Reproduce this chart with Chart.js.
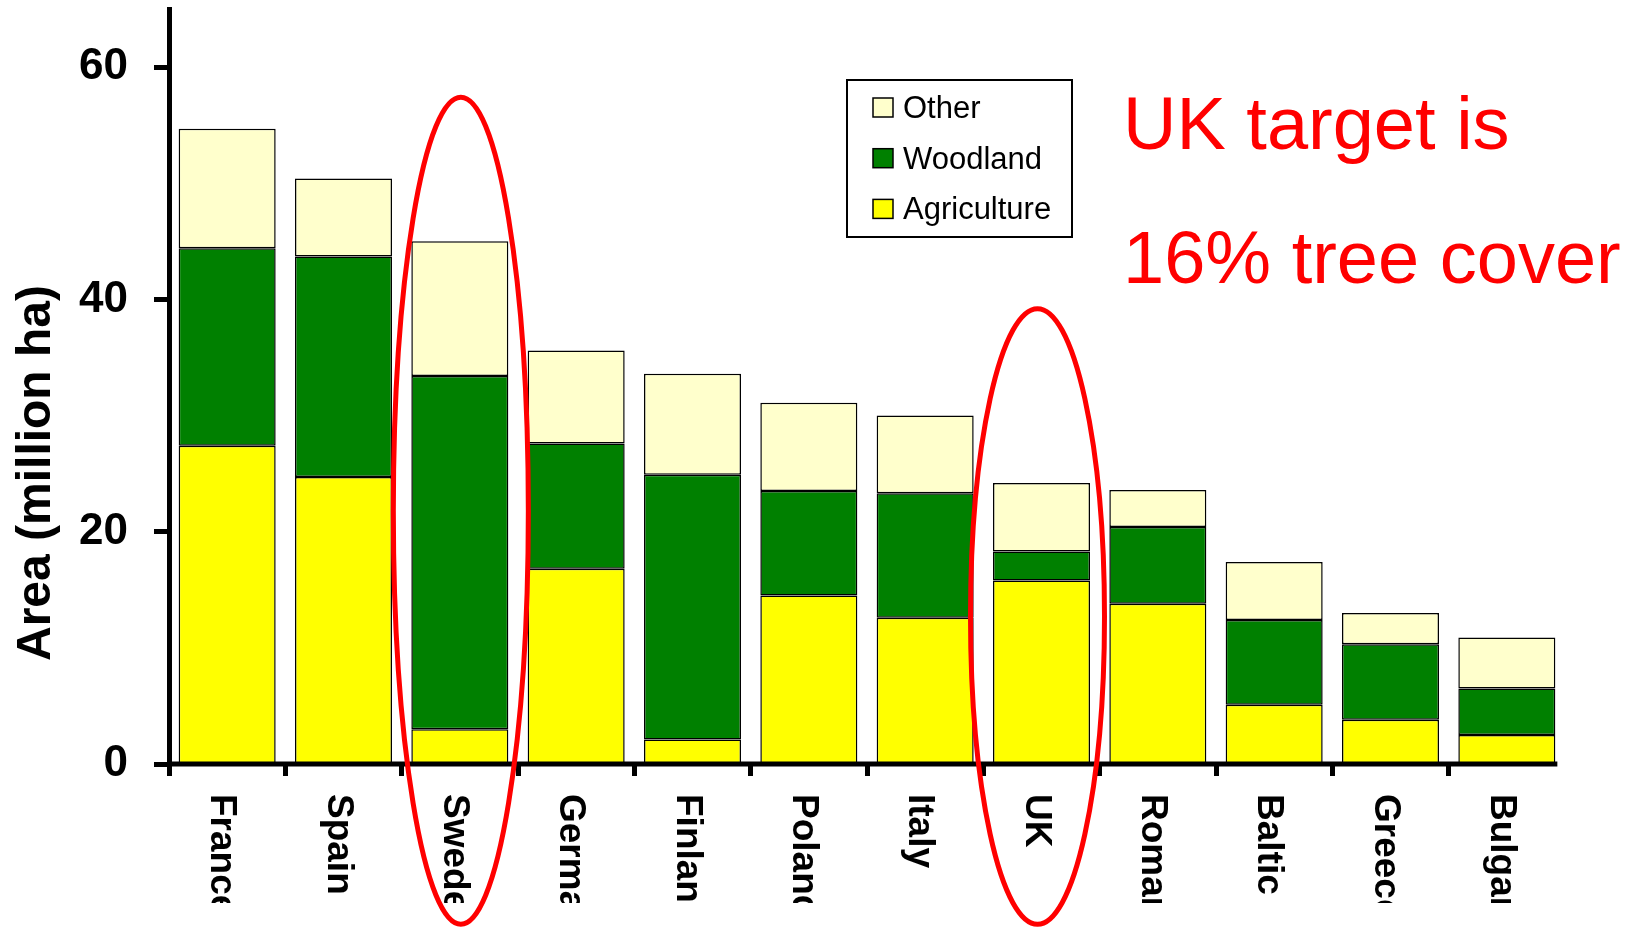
<!DOCTYPE html>
<html>
<head>
<meta charset="utf-8">
<title>Land use by country</title>
<script src="https://cdn.jsdelivr.net/npm/chart.js@4.4.1/dist/chart.umd.min.js"></script>
<style>
  html, body { margin: 0; padding: 0; background: #fff; }
  canvas { display: block; }
</style>
</head>
<body>
<canvas id="landChart" width="1646" height="929"></canvas>
<script>
// Countries along the x axis
const countries = ['France', 'Spain', 'Sweden', 'Germany', 'Finland', 'Poland',
                   'Italy', 'UK', 'Romania', 'Baltic', 'Greece', 'Bulgaria'];

// Area by land use, million ha (stacked bottom to top)
const agriculture = [27.4, 24.7, 3.0, 16.8, 2.1, 14.5, 12.6, 15.8, 13.8, 5.1, 3.8, 2.5];
const woodland    = [17.0, 19.0, 30.4, 10.8, 22.8, 9.0, 10.7, 2.5, 6.6, 7.3, 6.5, 4.0];
const other       = [10.3, 6.7, 11.6, 8.0, 8.7, 7.6, 6.7, 5.9, 3.2, 5.0, 2.7, 4.4];

// Y axis
const yTicks = [0, 20, 40, 60];
const yMax = 65;
const yTitle = 'Area (million ha)';

// Red note and the countries ringed in red
const noteLines = ['UK target is', '16% tree cover'];
const ringed = ['Sweden', 'UK'];

const FONT = '"Liberation Sans", Arial, Helvetica, sans-serif';
Chart.defaults.font.family = FONT;

// X axis line, stopping just after the last bar
function drawXAxisLine(ctx, chart) {
    const bars = chart.getDatasetMeta(0).data;
    const last = bars[bars.length - 1];
    const y = chart.scales.x.top;
    ctx.save();
    ctx.strokeStyle = '#000';
    ctx.lineWidth = 5;
    ctx.beginPath();
    ctx.moveTo(chart.chartArea.left - 2, y);
    ctx.lineTo(last.x + last.width / 2 + 2, y);
    ctx.stroke();
    ctx.restore();
}

// Country names, rotated to read downwards and cut off at the bottom
function drawCountryLabels(ctx, xScale) {
    ctx.save();
    ctx.beginPath();
    ctx.rect(0, 780, ctx.canvas.width, 123);
    ctx.clip();
    ctx.fillStyle = '#000';
    ctx.font = 'bold 37px ' + FONT;
    ctx.textAlign = 'left';
    ctx.textBaseline = 'alphabetic';
    countries.forEach((name, i) => {
        const cx = xScale.getPixelForValue(i);
        ctx.save();
        ctx.translate(cx - 16, 794);
        ctx.rotate(Math.PI / 2);
        ctx.fillText(name, 0, 0);
        ctx.restore();
    });
    ctx.restore();
}

// Y axis title, reading upwards
function drawAxisTitle(ctx) {
    ctx.save();
    ctx.translate(50, 473);
    ctx.rotate(-Math.PI / 2);
    ctx.fillStyle = '#000';
    ctx.font = 'bold 48px ' + FONT;
    ctx.textAlign = 'center';
    ctx.textBaseline = 'alphabetic';
    ctx.fillText(yTitle, 0, 0);
    ctx.restore();
}

// Boxed legend, top series first
function drawLegend(ctx, chart) {
    const items = chart.data.datasets.slice().reverse();
    ctx.save();
    ctx.fillStyle = '#fff';
    ctx.fillRect(847, 80, 225, 157);
    ctx.strokeStyle = '#000';
    ctx.lineWidth = 2;
    ctx.strokeRect(847, 80, 225, 157);

    ctx.font = '31px ' + FONT;
    ctx.textAlign = 'left';
    ctx.textBaseline = 'alphabetic';
    items.forEach((ds, i) => {
        const base = 118 + i * 50.7;
        ctx.fillStyle = ds.backgroundColor;
        ctx.fillRect(873, base - 20, 20, 19);
        ctx.lineWidth = 1.5;
        ctx.strokeRect(873, base - 20, 20, 19);
        ctx.fillStyle = '#000';
        ctx.fillText(ds.label, 903, base);
    });
    ctx.restore();
}

// Red note in the top right corner
function drawNote(ctx) {
    ctx.save();
    ctx.fillStyle = '#ff0000';
    ctx.font = '74px ' + FONT;
    ctx.textAlign = 'left';
    ctx.textBaseline = 'alphabetic';
    ctx.fillText(noteLines[0], 1123, 149);
    ctx.fillText(noteLines[1], 1123, 283);
    ctx.restore();
}

// Red rings round the highlighted countries
function drawRings(ctx, xScale, yScale) {
    const shape = {
        Sweden: { top: 57.4, bottom: -13.8, rx: 67.5, dx: 1 },
        UK:     { top: 39.2, bottom: -13.8, rx: 67, dx: -4 }
    };
    ctx.save();
    ctx.strokeStyle = '#ff0000';
    ctx.lineWidth = 5;
    ringed.forEach(name => {
        const s = shape[name];
        const cx = xScale.getPixelForValue(countries.indexOf(name)) + s.dx;
        const top = yScale.getPixelForValue(s.top);
        const bottom = yScale.getPixelForValue(s.bottom);
        ctx.beginPath();
        ctx.ellipse(cx, (top + bottom) / 2, s.rx, (bottom - top) / 2, 0, 0, Math.PI * 2);
        ctx.stroke();
    });
    ctx.restore();
}

const overlay = {
    id: 'overlay',
    afterDraw(chart) {
        const ctx = chart.ctx;
        drawXAxisLine(ctx, chart);
        drawCountryLabels(ctx, chart.scales.x);
        drawAxisTitle(ctx);
        drawLegend(ctx, chart);
        drawNote(ctx);
        drawRings(ctx, chart.scales.x, chart.scales.y);
    }
};

// fixed axis sizes, no extra room for overhanging tick labels
function fixSize(scale, width, height) {
    if (width) scale.width = width;
    if (height) scale.height = height;
    scale.paddingTop = 0;
    scale.paddingBottom = 0;
    scale.paddingLeft = 0;
    scale.paddingRight = 0;
}

new Chart(document.getElementById('landChart'), {
    type: 'bar',
    data: {
        labels: countries,
        datasets: [
            { label: 'Agriculture', data: agriculture, backgroundColor: '#ffff00' },
            { label: 'Woodland', data: woodland, backgroundColor: '#008000' },
            { label: 'Other', data: other, backgroundColor: '#ffffcc' }
        ]
    },
    options: {
        responsive: false,
        animation: false,
        devicePixelRatio: 1,
        layout: { padding: { top: 9, right: 81, left: 0, bottom: 0 } },
        datasets: {
            bar: {
                borderColor: '#000',
                borderWidth: 1.5,
                borderSkipped: false,
                categoryPercentage: 1,
                barPercentage: 0.834
            }
        },
        plugins: {
            legend: { display: false },
            tooltip: { enabled: false }
        },
        scales: {
            x: {
                stacked: true,
                border: { display: false },
                grid: {
                    drawOnChartArea: false,
                    tickLength: 12,
                    tickWidth: 5,
                    // no tick mark after the last bar
                    tickColor: c => c.type === 'tick' ? '#000' : 'rgba(0,0,0,0)'
                },
                ticks: { display: false },
                afterFit: scale => fixSize(scale, 0, 165)
            },
            y: {
                stacked: true,
                min: 0,
                max: yMax,
                border: { color: '#000', width: 5 },
                grid: {
                    drawOnChartArea: false,
                    tickLength: 15,
                    tickWidth: 5,
                    tickColor: '#000'
                },
                ticks: {
                    color: '#000',
                    padding: 26,
                    font: { size: 44, weight: 'bold' }
                },
                afterBuildTicks: scale => {
                    scale.ticks = yTicks.map(v => ({ value: v }));
                },
                afterFit: scale => fixSize(scale, 169, 0)
            }
        }
    },
    plugins: [overlay]
});
</script>
</body>
</html>
